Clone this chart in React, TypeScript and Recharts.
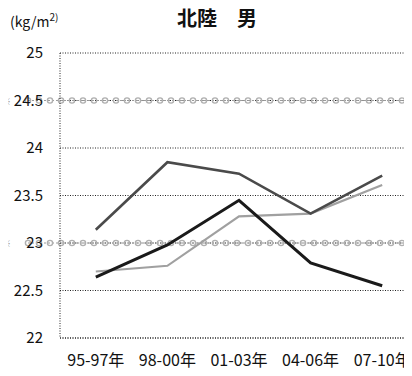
import React from "react";
import { LineChart, Line, XAxis, YAxis, CartesianGrid, ReferenceLine } from "recharts";

const categories = ["95-97年", "98-00年", "01-03年", "04-06年", "07-10年"];
const seriesA = [23.14, 23.85, 23.73, 23.31, 23.71];
const seriesB = [22.64, 22.98, 23.45, 22.79, 22.55];
const seriesC = [22.7, 22.76, 23.28, 23.31, 23.61];
const yTicks = [22, 22.5, 23, 23.5, 24, 24.5, 25];
const refValues = [24.5, 23];

const data = categories.map((c, i) => ({ cat: c, a: seriesA[i], b: seriesB[i], c: seriesC[i] }));

const FONT = "'Noto Sans CJK JP', 'Noto Sans', sans-serif";

const RingLine = (props: any) => {
  const { y1, x2 } = props;
  const startX = 28;
  const rings = [];
  for (let x = startX; x < x2 + 10; x += 11) {
    rings.push(<circle key={x} cx={x} cy={y1} r={2.6} fill="none" stroke="#b0b0b0" strokeWidth={1.4} />);
  }
  return (
    <g>
      <line x1={startX} y1={y1} x2={x2} y2={y1} stroke="#9a9a9a" strokeWidth={1.2} strokeDasharray="2 2" />
      {rings}
      <text x={2} y={y1 + 4} fontSize={9} fill="#999" fontFamily={FONT}>※</text>
    </g>
  );
};

export default function App() {
  return (
    <div style={{ margin: -8, width: 412, height: 376, overflow: "hidden", position: "relative", background: "#fff" }}>
      <div style={{ position: "absolute", left: 10, top: 9, fontSize: 14, fontFamily: FONT, color: "#111" }}>
        (kg/m<sup style={{ fontSize: 10 }}>2)</sup>
      </div>
      <div style={{ position: "absolute", left: 177, top: 3, fontSize: 20, fontWeight: 700, fontFamily: FONT, color: "#111", whiteSpace: "pre" }}>
        北陸　男
      </div>
      <LineChart width={420} height={376} data={data} margin={{ top: 53, right: 2, bottom: 0, left: 0 }}>
        <CartesianGrid vertical={false} stroke="#222" strokeDasharray="1 1.5" strokeWidth={1} />
        <XAxis
          dataKey="cat"
          scale="band"
          height={38}
          stroke="#222"
          strokeDasharray="1 1.5"
          tickSize={3}
          tick={{ fill: "#111", fontSize: 16, fontFamily: FONT }}
          tickLine={false}
          tickMargin={14}
          interval={0}
        />
        <YAxis
          width={60}
          domain={[22, 25]}
          ticks={yTicks}
          stroke="#222"
          strokeDasharray="1 1.5"
          tickSize={3}
          tickLine={false}
          tickMargin={14}
          tick={{ fill: "#111", fontSize: 15, fontFamily: FONT }}
          interval={0}
        />
        {refValues.map((v) => (
          <ReferenceLine key={v} y={v} shape={RingLine} />
        ))}
        <Line dataKey="c" stroke="#a0a0a0" strokeWidth={2.2} dot={false} isAnimationActive={false} />
        <Line dataKey="a" stroke="#4a4a4a" strokeWidth={2.6} dot={false} isAnimationActive={false} />
        <Line dataKey="b" stroke="#1a1a1a" strokeWidth={3} dot={false} isAnimationActive={false} />
      </LineChart>
    </div>
  );
}
